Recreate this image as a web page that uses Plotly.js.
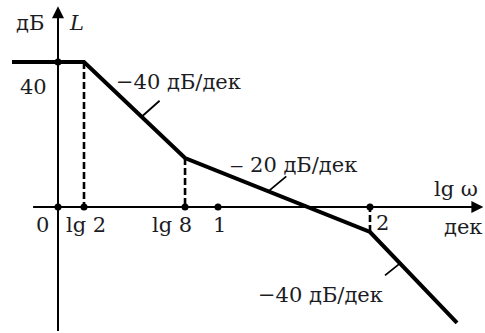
<!DOCTYPE html>
<html>
<head>
<meta charset="utf-8">
<script src="https://cdn.plot.ly/plotly-3.0.1.min.js"></script>
<style>
  html, body { margin: 0; padding: 0; background: #fff; }
  #chart { width: 485px; height: 333px; }
</style>
</head>
<body>
<div id="chart"></div>
<script>
// Asymptotic log-magnitude response L(lg ω), schematic positions along lg ω
const cornerX = [-0.2875, 0.1625, 0.794, 1.95, 2.494];
const cornerL = [40, 40, 13.5, -6.9, -32];

// Marked points on the lg ω axis and their labels
const tickX = [0, 0.1625, 0.794, 1.0, 1.95];
const tickText = ['0', 'lg 2', 'lg 8', '1', '2'];

// Level marked on the L axis
const levelL = 40;
const levelText = '40';

// Slopes of the three falling segments, dB/dec
const slopeText = ['\u221240 дБ/дек', '\u2012 20 дБ/дек', '\u221240 дБ/дек'];

const FONT = 'DejaVu Serif, Liberation Serif, serif';
const INK = '#1c1c24';

const W = 485, H = 333;
const xr = [-0.3625, 2.66875];
const yr = [-34.76, 57.10];
const pxX = W / (xr[1] - xr[0]);   // pixels per decade
const pxY = H / (yr[1] - yr[0]);   // pixels per dB

const traces = [];

// dashed verticals between the corners and the axis
[1, 2, 3].forEach(i => {
  traces.push({
    x: [cornerX[i], cornerX[i]], y: [cornerL[i], 0],
    mode: 'lines', line: {color: '#000', width: 2.6, dash: '7px,3px'},
    hoverinfo: 'skip', showlegend: false
  });
});

// the broken-line characteristic
traces.push({
  x: cornerX, y: cornerL, mode: 'lines',
  line: {color: '#000', width: 4},
  hoverinfo: 'skip', showlegend: false
});

// short leaders from each sloped segment towards its label (offsets in px)
const seg = (i, t) => [cornerX[i] + t * (cornerX[i + 1] - cornerX[i]),
                       cornerL[i] + t * (cornerL[i + 1] - cornerL[i])];
const leaders = [[1, 0.57, 18, 16], [2, 0.45, 18, 15], [3, 0.345, -15, -12]];
leaders.forEach(([i, t, dx, dy]) => {
  const [px, py] = seg(i, t);
  traces.push({
    x: [px, px + dx / pxX], y: [py, py + dy / pxY],
    mode: 'lines', line: {color: '#000', width: 1.8},
    hoverinfo: 'skip', showlegend: false
  });
});

// dots on the axes
traces.push({
  x: tickX.concat([0]), y: tickX.map(() => 0).concat([levelL]),
  mode: 'markers', marker: {color: '#000', size: 7},
  hoverinfo: 'skip', showlegend: false
});

const ann = [];
const txt = (x, y, text, opts) => Object.assign({
  x, y, xref: 'x', yref: 'y', text, showarrow: false,
  font: {family: FONT, size: 21, color: INK}
}, opts || {});

// coordinate axes with arrow heads
ann.push({x: xr[1] - 0.01, y: 0, ax: -0.165, ay: 0, axref: 'x', ayref: 'y',
  xref: 'x', yref: 'y', text: '', showarrow: true,
  arrowhead: 2, arrowsize: 1.2, arrowwidth: 2, arrowcolor: '#000'});
ann.push({x: 0, y: 55.4, ax: 0, ay: -34.6, axref: 'x', ayref: 'y',
  xref: 'x', yref: 'y', text: '', showarrow: true,
  arrowhead: 2, arrowsize: 1.2, arrowwidth: 2, arrowcolor: '#000'});

// tick labels under the lg ω axis
const tickShift = [-16, 2, -13, 1, 12];
tickX.forEach((x, i) => {
  ann.push(txt(x, 0, tickText[i], {yanchor: 'middle', yshift: i === 4 ? -16 : -18, xshift: tickShift[i]}));
});

// level label
ann.push(txt(0, levelL, levelText, {xshift: -25, yshift: -25}));

// axis names and units
ann.push(txt(0, 50.7, 'дБ', {xshift: -28}));
ann.push(txt(0, 50.7, '<i>L</i>', {xshift: 18}));
ann.push(txt(2.485, 5, 'lg ω'));
ann.push(txt(2.53, -5.5, 'дек'));

// slope labels
ann.push(txt(0.75, 34.4, slopeText[0]));
ann.push(txt(1.47, 11.6, slopeText[1]));
ann.push(txt(1.64, -24.3, slopeText[2]));

const layout = {
  width: W, height: H,
  margin: {l: 0, r: 0, t: 0, b: 0},
  paper_bgcolor: '#fff', plot_bgcolor: '#fff',
  xaxis: {range: xr, visible: false, fixedrange: true},
  yaxis: {range: yr, visible: false, fixedrange: true},
  annotations: ann,
  showlegend: false
};

Plotly.newPlot('chart', traces, layout, {staticPlot: true, displayModeBar: false});
</script>
</body>
</html>
